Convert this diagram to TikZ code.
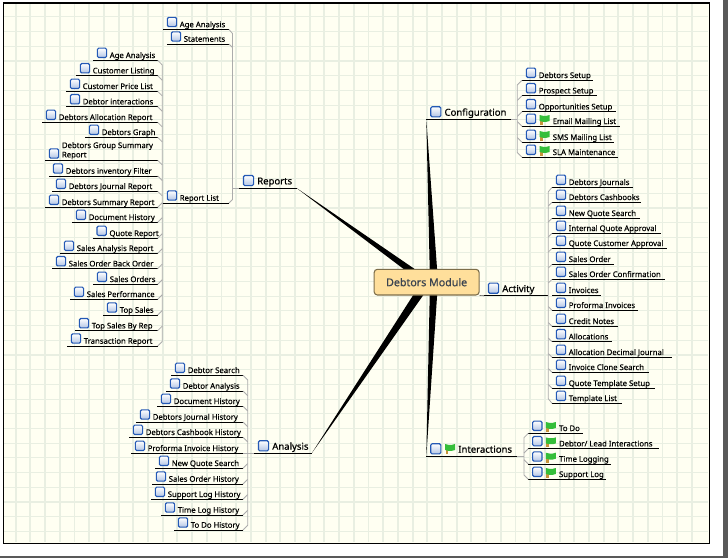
\documentclass[tikz,border=0pt]{standalone}
\usepackage{fontspec}
\setmainfont{Noto Sans}
\newfontfamily\leaffont[FakeBold=0.35]{Noto Sans}
\newfontfamily\mainfont[FakeBold=0.6]{Noto Sans}
\newfontfamily\rootfont[FakeBold=0.7]{Noto Sans}
\definecolor{paper}{HTML}{FFFFF2}
\definecolor{gridline}{HTML}{E9EFE2}
\definecolor{rootfill}{HTML}{FFDF9B}
\definecolor{rootedge}{HTML}{7D6E4A}
\definecolor{rootink}{HTML}{3B4450}
\definecolor{iconedge}{HTML}{2459B5}
\definecolor{flaggreen}{HTML}{35BE3A}
\definecolor{flagpole}{HTML}{C8943C}
\tikzset{
  leaftext/.style={anchor=base west, inner sep=0pt, font=\leaffont\fontsize{5.8}{7}\selectfont},
  maintext/.style={anchor=base west, inner sep=0pt, font=\mainfont\fontsize{7.15}{9}\selectfont},
  chkbox/.style={draw=iconedge, line width=0.85pt, rounded corners=1pt, top color=white, bottom color=iconedge!35, inner sep=0pt, minimum size=7pt},
  bigbox/.style={chkbox, minimum size=7.6pt},
  under/.style={black, line width=0.75pt},
  twig/.style={gray!65, line width=0.6pt},
  flagicon/.pic={
    \fill[flagpole] (1,2) rectangle (3.6,10);
    \fill[flaggreen] (0.5,0) -- (4,0.8) -- (7.5,0.8) -- (10.5,0) -- (10.5,6) -- (7.5,6.8) -- (4,6.8) -- (0.5,6) -- cycle;
  }
}
% one small topic with its underline
\newcommand{\leaf}[5]{%
  \coordinate (#1-l) at (#2,#4);
  \coordinate (#1-r) at (#3,#4);
  \node[chkbox] (#1-i) at (#2+9,#4-7.5) {};
  \node[leaftext] (#1) at (#2+16.5,#4-2.3) {#5};
  \draw[under] (#1-l) -- (#1-r);
}
\newcommand{\flagleaf}[5]{%
  \coordinate (#1-l) at (#2,#4);
  \coordinate (#1-r) at (#3,#4);
  \node[chkbox] (#1-i) at (#2+9,#4-7.5) {};
  \pic at (#2+17,#4-11.3) {flagicon};
  \node[leaftext] (#1) at (#2+30.5,#4-2.3) {#5};
  \draw[under] (#1-l) -- (#1-r);
}
% one main topic
\newcommand{\branch}[5]{%
  \coordinate (#1-l) at (#2,#4);
  \coordinate (#1-r) at (#3,#4);
  \node[bigbox] (#1-i) at (#2+9.5,#4-7.5) {};
  \node[maintext] (#1) at (#2+18,#4-3.6) {#5};
  \draw[under] (#1-l) -- (#1-r);
}
\begin{document}
\begin{tikzpicture}[x=0.75pt,y=-0.75pt]
\useasboundingbox (0,0) rectangle (728,558);

% Page
\fill[white] (0,0) rectangle (728,558);
\fill[black!65] (723,0) rectangle (728,558);
\fill[black!65] (0,556) rectangle (728,558);
\fill[paper] (3.3,3) rectangle (709.3,543.3);
\foreach \gx in {0,...,46} \draw[gridline, line width=1.4pt] (15.7+14.7*\gx,4) -- (15.7+14.7*\gx,542);
\foreach \gy in {0,...,35} \draw[gridline, line width=0.8pt] (4,16.9+14.7*\gy) -- (708,16.9+14.7*\gy);
\draw[black, line width=1.1pt] (3.3,3) rectangle (709.3,543.3);

% Main topics
\coordinate (hubA) at (427,282);
\coordinate (hubB) at (434,282);
\branch{reports}{239}{296.5}{188}{Reports}
\branch{analysis}{254}{311.7}{453.3}{Analysis}
\branch{config}{426.3}{511}{119.3}{Configuration}
\branch{activity}{484}{547.7}{295.7}{Activity}

% Interactions has a flag as well
\coordinate (inter-l) at (426.3,456.3);
\coordinate (inter-r) at (517,456.3);
\node[bigbox] (inter-i) at (435.8,448.8) {};
\pic at (444.5,444) {flagicon};
\node[maintext] (inter) at (458,452.7) {Interactions};
\draw[under] (inter-l) -- (inter-r);

% Thick branches
\fill[black] (reports-r) -- ([shift={(2.2,-3)}]hubA) -- ([shift={(-2.2,3)}]hubA) -- cycle;
\fill[black] (analysis-r) -- ([shift={(3.8,2.5)}]hubA) -- ([shift={(-3.8,-2.5)}]hubA) -- cycle;
\fill[black] (config-l) -- ([shift={(4,0)}]hubB) -- ([shift={(-4,0)}]hubB) -- cycle;
\fill[black] (inter-l) -- ([shift={(4,0)}]hubB) -- ([shift={(-4,0)}]hubB) -- cycle;

% Root
\node[draw=rootedge, fill=rootfill, line width=0.8pt, rounded corners=2.5pt, minimum width=78.8pt, minimum height=19.3pt, inner sep=0pt, text=rootink, font=\rootfont\fontsize{8}{10}\selectfont] (root) at (426.65,282.15) {Debtors Module};
\draw[black!70, line width=0.5pt] (root.south east) -- (activity-l);

% Reports, upper group
\leaf{ageA}{163}{229}{29.5}{Age Analysis}
\leaf{statem}{167}{229}{44}{Statements}
\leaf{replist}{163}{229}{203}{Report List}
\coordinate (trA) at (232.5,33.5);
\coordinate (trB) at (232.5,199.5);
\coordinate (trC) at (232.5,188);
\draw[twig] (ageA-r) -- (trA) -- (trB) -- (replist-r);
\draw[twig] (statem-r) -- (232.5,47.5);
\draw[twig] (trC) -- (reports-l);

% Reports, report list
\leaf{rAge}{93}{157.7}{60.3}{Age Analysis}
\leaf{rCust}{76}{157.7}{75.7}{Customer Listing}
\leaf{rPrice}{66}{157.7}{91.3}{Customer Price List}
\leaf{rInter}{66}{157.7}{106.7}{Debtor interactions}
\leaf{rAlloc}{42}{157.7}{122.3}{Debtors Allocation Report}
\leaf{rGraph}{85}{157.7}{137.3}{Debtors Graph}
\coordinate (rGroup-l) at (45,160.3);
\coordinate (rGroup-r) at (157.7,160.3);
\node[chkbox] (rGroup-i) at (54,153.5) {};
\node[leaftext, anchor=west, align=left] (rGroup) at (61.7,150.7) {Debtors Group Summary\\Report};
\draw[under] (rGroup-l) -- (rGroup-r);
\leaf{rInv}{49}{157.7}{176}{Debtors inventory Filter}
\leaf{rJour}{52}{157.7}{191.3}{Debtors Journal Report}
\leaf{rSum}{45}{157.7}{207.3}{Debtors Summary Report}
\leaf{rDoc}{72}{157.7}{222.3}{Document History}
\leaf{rQuote}{92.7}{157.7}{238.3}{Quote Report}
\leaf{rSales}{60}{157.7}{253.3}{Sales Analysis Report}
\leaf{rBack}{52}{157.7}{268.7}{Sales Order Back Order}
\leaf{rOrders}{93}{157.7}{284.3}{Sales Orders}
\leaf{rPerf}{70}{157.7}{299.3}{Sales Performance}
\leaf{rTop}{103}{157.7}{315}{Top Sales}
\leaf{rRep}{75}{157.7}{330.7}{Top Sales By Rep}
\leaf{rTrans}{67}{157.7}{346}{Transaction Report}
\coordinate (trD) at (162.3,65);
\coordinate (trE) at (162.3,341.5);
\draw[twig] (rAge-r) -- (trD) -- (trE) -- (rTrans-r);
\foreach \nm in {rCust,rPrice,rInter,rAlloc,rGraph,rGroup,rInv,rJour} \draw[twig] (\nm-r) -- ++(4.6,4.6);
\foreach \nm in {rSum,rDoc,rQuote,rSales,rBack,rOrders,rPerf,rTop,rRep} \draw[twig] (\nm-r) -- ++(4.6,-4.6);
\draw[twig] (162.3,203) -- (replist-l);

% Analysis
\leaf{aSearch}{171}{243}{375.3}{Debtor Search}
\leaf{aDebt}{166}{243}{391}{Debtor Analysis}
\leaf{aDoc}{157}{243}{406.3}{Document History}
\leaf{aJour}{136}{243}{422}{Debtors Journal History}
\leaf{aCash}{129}{243}{437.3}{Debtors Cashbook History}
\leaf{aProf}{131}{243}{453.3}{Proforma Invoice History}
\leaf{aNew}{155}{243}{468.3}{New Quote Search}
\leaf{aOrder}{152}{243}{484}{Sales Order History}
\leaf{aSupp}{151}{243}{499.3}{Support Log History}
\leaf{aTime}{161}{243}{515}{Time Log History}
\leaf{aToDo}{174}{243}{530}{To Do History}
\coordinate (trF) at (247.7,380);
\coordinate (trG) at (247.7,525.3);
\draw[twig] (aSearch-r) -- (trF) -- (trG) -- (aToDo-r);
\foreach \nm in {aDebt,aDoc,aJour,aCash} \draw[twig] (\nm-r) -- ++(4.7,4.7);
\foreach \nm in {aNew,aOrder,aSupp,aTime} \draw[twig] (\nm-r) -- ++(4.7,-4.7);
\draw[twig] (aProf-r) -- (analysis-l);

% Configuration
\leaf{cDeb}{522}{592.7}{80.3}{Debtors Setup}
\leaf{cPros}{522}{596.7}{95.7}{Prospect Setup}
\leaf{cOpp}{522}{615.7}{111.7}{Opportunities Setup}
\flagleaf{cEmail}{522}{620}{126.3}{Email Mailing List}
\flagleaf{cSms}{522}{614}{142.3}{SMS Mailing List}
\flagleaf{cSla}{522}{618}{157.3}{SLA Maintenance}
\coordinate (trH) at (517.3,85);
\coordinate (trI) at (517.3,152.6);
\draw[twig] (cDeb-l) -- (trH) -- (trI) -- (cSla-l);
\foreach \nm in {cPros,cOpp} \draw[twig] (\nm-l) -- ++(-4.7,4.7);
\foreach \nm in {cEmail,cSms} \draw[twig] (\nm-l) -- ++(-4.7,-4.7);
\draw[twig] (config-r) -- (517.3,119.3);

% Activity
\leaf{vJour}{552}{632.7}{187.3}{Debtors Journals}
\leaf{vCash}{552}{640.7}{202.3}{Debtors Cashbooks}
\leaf{vQuote}{552}{640}{218.3}{New Quote Search}
\leaf{vInt}{552}{661}{233.3}{Internal Quote Approval}
\leaf{vCust}{552}{667}{248.3}{Quote Customer Approval}
\leaf{vOrder}{552}{614}{264.3}{Sales Order}
\leaf{vConf}{552}{665}{279.3}{Sales Order Confirmation}
\leaf{vInv}{552}{600.7}{295.3}{Invoices}
\leaf{vProf}{552}{638}{310.3}{Proforma Invoices}
\leaf{vCred}{552}{618}{326.3}{Credit Notes}
\leaf{vAlloc}{552}{612}{341.7}{Allocations}
\leaf{vDec}{552}{672}{357.3}{Allocation Decimal Journal}
\leaf{vClone}{552}{649}{372.3}{Invoice Clone Search}
\leaf{vTemp}{552}{655}{388.3}{Quote Template Setup}
\leaf{vList}{552}{622}{403.3}{Template List}
\coordinate (trJ) at (548.3,191.8);
\coordinate (trK) at (548.3,398.8);
\draw[twig] (vJour-l) -- (trJ) -- (trK) -- (vList-l);
\foreach \nm in {vCash,vQuote,vInt,vCust,vOrder,vConf} \draw[twig] (\nm-l) -- ++(-3.7,3.7);
\foreach \nm in {vProf,vCred,vAlloc,vDec,vClone,vTemp} \draw[twig] (\nm-l) -- ++(-3.7,-3.7);

% Interactions
\flagleaf{iToDo}{528.3}{582.7}{433.3}{To Do}
\flagleaf{iLead}{528.3}{659}{448.7}{Debtor/ Lead Interactions}
\flagleaf{iTime}{528.3}{611}{464}{Time Logging}
\flagleaf{iSupp}{528.3}{606}{479.3}{Support Log}
\coordinate (trL) at (524,437.6);
\coordinate (trM) at (524,475);
\draw[twig] (iToDo-l) -- (trL) -- (trM) -- (iSupp-l);
\draw[twig] (iLead-l) -- ++(-4.3,4.3);
\draw[twig] (iTime-l) -- ++(-4.3,-4.3);
\draw[twig] (inter-r) -- (524,456.3);
\end{tikzpicture}
\end{document}
